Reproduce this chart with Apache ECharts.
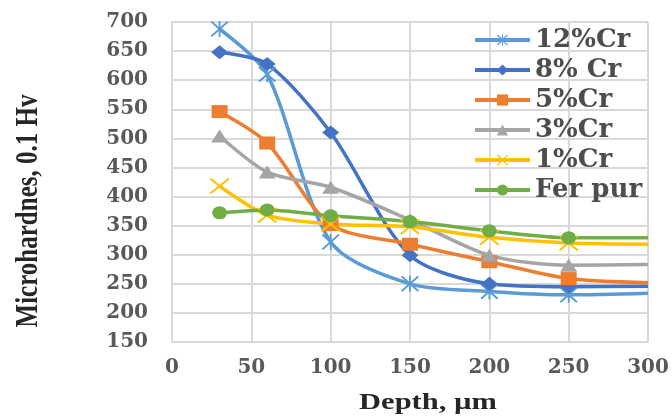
<!DOCTYPE html>
<html>
<head>
<meta charset="utf-8">
<script src="https://cdn.jsdelivr.net/npm/echarts@6/dist/echarts.min.js"></script>
<style>
  html, body { margin: 0; padding: 0; background: #fff; }
  #main { width: 672px; height: 419px; }
</style>
</head>
<body>
<div id="main"></div>
<script>
// depth in µm, the last point only carries the line to the edge (no marker)
var depth = [30, 60, 100, 150, 200, 250, 300];
var cr12 = [688, 610, 322, 250, 237, 231, 234];
var cr8 = [648, 628, 510, 299, 250, 245, 246];
var cr5 = [546, 492, 352, 318, 288, 259, 252];
var cr3 = [504, 442, 416, 360, 299, 282, 283];
var cr1 = [418, 368, 353, 348, 330, 320, 318];
var ferPur = [372, 377, 367, 357, 341, 329, 329];
var names = ['12%Cr', '8% Cr', '5%Cr', '3%Cr', '1%Cr', 'Fer pur'];
var colors = ['#5B9BD5', '#4472C4', '#ED7D31', '#A5A5A5', '#FFC000', '#70AD47'];

var xMark = 'path://M0,0.8 L0.8,0 L5,4.2 L9.2,0 L10,0.8 L5.8,5 L10,9.2 L9.2,10 L5,5.8 L0.8,10 L0,9.2 L4.2,5 Z';
var starMark = xMark + ' M4.5,0 L5.5,0 L5.5,10 L4.5,10 Z';

function pts(vals) {
    return depth.map(function (d, i) {
        if (i === depth.length - 1) return { value: [d, vals[i]], symbol: 'none' };
        return [d, vals[i]];
    });
}

function serie(name, vals, color, symbol, size) {
    return {
        name: name,
        type: 'line',
        smooth: 0.28,
        data: pts(vals),
        symbol: symbol,
        symbolSize: size,
        showAllSymbol: true,
        lineStyle: { color: color, width: 3.5 },
        itemStyle: { color: color },
        z: 3
    };
}

var myChart = echarts.init(document.getElementById('main'));
var option = {
    animation: false,
    color: colors,
    grid: {
        left: 172,
        right: 24,
        top: 22,
        bottom: 77
    },
    legend: {
        orient: 'vertical',
        left: 468,
        top: 22,
        itemWidth: 55,
        itemHeight: 14,
        itemGap: 4,
        data: names,
        lineStyle: { width: 4 },
        textStyle: {
            fontFamily: 'DejaVu Serif',
            fontWeight: 'bold',
            fontSize: 26,
            color: '#4d4d4d'
        }
    },
    xAxis: {
        type: 'value',
        min: 0,
        max: 300,
        interval: 50,
        axisLine: { show: true, lineStyle: { color: '#d9d9d9', width: 2 } },
        axisTick: { show: false },
        splitLine: { show: true, lineStyle: { color: '#d9d9d9', width: 2 } },
        axisLabel: {
            margin: 16,
            fontFamily: 'DejaVu Serif',
            fontWeight: 'bold',
            fontSize: 20,
            color: '#595959'
        }
    },
    yAxis: {
        type: 'value',
        min: 150,
        max: 700,
        interval: 50,
        axisLine: { show: true, lineStyle: { color: '#d9d9d9', width: 2 } },
        axisTick: { show: false },
        splitLine: { show: true, lineStyle: { color: '#d9d9d9', width: 2 } },
        axisLabel: {
            margin: 24,
            fontFamily: 'DejaVu Serif',
            fontWeight: 'bold',
            fontSize: 20,
            color: '#595959'
        }
    },
    graphic: [
        {
            type: 'text',
            x: 29,
            y: 211,
            rotation: Math.PI / 2,
            scaleY: 1.25,
            style: {
                text: 'Microhardnes, 0.1 Hv',
                fontFamily: 'Liberation Serif',
                fontWeight: 'bold',
                fontSize: 25,
                fill: '#262626',
                align: 'center',
                verticalAlign: 'middle'
            }
        },
        {
            type: 'text',
            x: 428,
            y: 403,
            scaleX: 1.27,
            style: {
                text: 'Depth, µm',
                fontFamily: 'Liberation Serif',
                fontWeight: 'bold',
                fontSize: 24,
                fill: '#262626',
                align: 'center',
                verticalAlign: 'middle'
            }
        }
    ],
    series: [
        serie(names[0], cr12, colors[0], starMark, [18, 16]),
        serie(names[1], cr8, colors[1], 'diamond', [17, 14]),
        serie(names[2], cr5, colors[2], 'rect', [16, 13]),
        serie(names[3], cr3, colors[3], 'triangle', [17, 13]),
        serie(names[4], cr1, colors[4], xMark, [20, 16]),
        serie(names[5], ferPur, colors[5], 'circle', [15, 13])
    ]
};
myChart.setOption(option);
</script>
</body>
</html>
